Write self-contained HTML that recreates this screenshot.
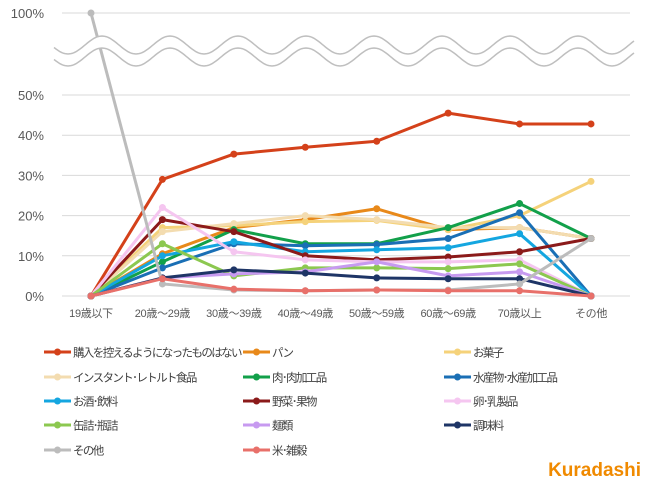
<!DOCTYPE html>
<html><head><meta charset="utf-8"><style>
html,body{margin:0;padding:0;background:#fff;}
svg{display:block;font-family:"Liberation Sans","Noto Sans CJK JP",sans-serif;}
</style></head><body>
<svg id="chart" width="650" height="478" viewBox="0 0 650 478"></svg>
<script>
const categories=["19歳以下","20歳～29歳","30歳～39歳","40歳～49歳","50歳～59歳","60歳～69歳","70歳以上","その他"];
const seriesNames=["購入を控えるようになったものはない","パン","お菓子","インスタント･レトルト食品","肉･肉加工品","水産物･水産加工品","お酒･飲料","野菜･果物","卵･乳製品","缶詰･瓶詰","麺類","調味料","その他","米･雑穀"];
const seriesColors=["#d4411a","#e8891a","#f5d27a","#f3dcb0","#12a04a","#1a6fb5","#14a6e0","#8b1a1a","#f5c6f0","#8cc850","#c79af0","#1e3566","#bcbcbc","#e8706a"];
const v0=[0,29,35.3,37,38.5,45.5,42.8,42.8];
const v1=[0,10.5,17,19,21.7,16.5,17,14.3];
const v2=[0,17,17.5,18.5,18.8,16.5,20,28.5];
const v3=[0,16,18,20,19,17,17,14.3];
const v4=[0,8.5,16.5,13,13,17,23,14.3];
const v5=[0,7,13,12.5,12.8,14.3,20.7,0];
const v6=[0,10,13.5,11,11.5,12,15.5,0];
const v7=[0,19,16,10,9,9.7,11,14.3];
const v8=[0,22,11,9,8.5,8.5,9,0];
const v9=[0,13,5,7,7,6.8,8,0];
const v10=[0,4.5,5.5,6,8.5,5,6,0];
const v11=[0,4.5,6.5,5.7,4.5,4.3,4.3,0];
const v12=[100,3,1.5,1.3,1.5,1.5,3,14.3];
const v13=[0,4.3,1.7,1.3,1.5,1.3,1.3,0];
const seriesValues=[v0,v1,v2,v3,v4,v5,v6,v7,v8,v9,v10,v11,v12,v13];
const yTicks=[0,10,20,30,40,50];
const NS="http://www.w3.org/2000/svg";
const svg=document.getElementById('chart');
function mk(t,a){const e=document.createElementNS(NS,t);for(const k in a)e.setAttribute(k,a[k]);svg.appendChild(e);return e;}
const x0=91,x1=591;
function xs(i){return x0+i*(x1-x0)/(categories.length-1);}
function ys(v){return v>60?13:296-v*4.02;}
for(const t of yTicks){
 const g=mk('line',{x1:62,x2:630,y1:ys(t),y2:ys(t),stroke:'#d9d9d9','stroke-width':1});
 
 
 const l=mk('text',{x:44,y:ys(t)+5,'text-anchor':'end','font-size':13,fill:'#595959'});l.textContent=t+'%';
 
 
}
const g100=mk('line',{x1:62,x2:630,y1:13,y2:13,stroke:'#d9d9d9','stroke-width':1});


const l100=mk('text',{x:44,y:18,'text-anchor':'end','font-size':13,fill:'#595959'});l100.textContent='100%';


categories.forEach((c,i)=>{const t=mk('text',{x:xs(i),y:317,'text-anchor':'middle','font-size':11,fill:'#595959','letter-spacing':-0.3});t.textContent=c;
 
 });
seriesValues.forEach((vals,s)=>{
 const pts=vals.map((v,i)=>xs(i)+','+ys(v)).join(' ');
 const p=mk('polyline',{points:pts,fill:'none',stroke:seriesColors[s],'stroke-width':3,'stroke-linejoin':'round'});
 
 
 vals.forEach((v,i)=>{const c=mk('circle',{cx:xs(i),cy:ys(v),r:3.5,fill:seriesColors[s]});
  
  });
});
function wave(cy){let d='';for(let x=54;x<=634;x+=2){const y=cy-9*Math.cos((x-102)*2*Math.PI/68);d+=(x===54?'M':'L')+x+','+y.toFixed(1);}return d;}
let band=wave(45);let lw=wave(57).replace('M','L').split('L').filter(Boolean).reverse().join('L');
const bb=mk('path',{d:band+'L'+lw+'Z',fill:'#fff',stroke:'none'});


const w1=mk('path',{d:wave(45),fill:'none',stroke:'#bfbfbf','stroke-width':1.5});


const w2=mk('path',{d:wave(57),fill:'none',stroke:'#bfbfbf','stroke-width':1.5});


const lx=[44,243,444],ly=[352,377,401,425,450];
seriesNames.forEach((n,i)=>{
 const x=lx[i%3],y=ly[Math.floor(i/3)];
 const l=mk('line',{x1:x,x2:x+27,y1:y,y2:y,stroke:seriesColors[i],'stroke-width':3});
 
 
 const c=mk('circle',{cx:x+13.5,cy:y,r:3.5,fill:seriesColors[i]});
 
 
 const t=mk('text',{x:x+29,y:y+4.5,'font-size':11.5,fill:'#404040','letter-spacing':-1.6});t.textContent=n;
 
 
});
const logo=mk('text',{x:641,y:476,'text-anchor':'end','font-size':19,'font-weight':'bold',fill:'#f08a00'});logo.textContent='Kuradashi';


</script>
</body></html>
